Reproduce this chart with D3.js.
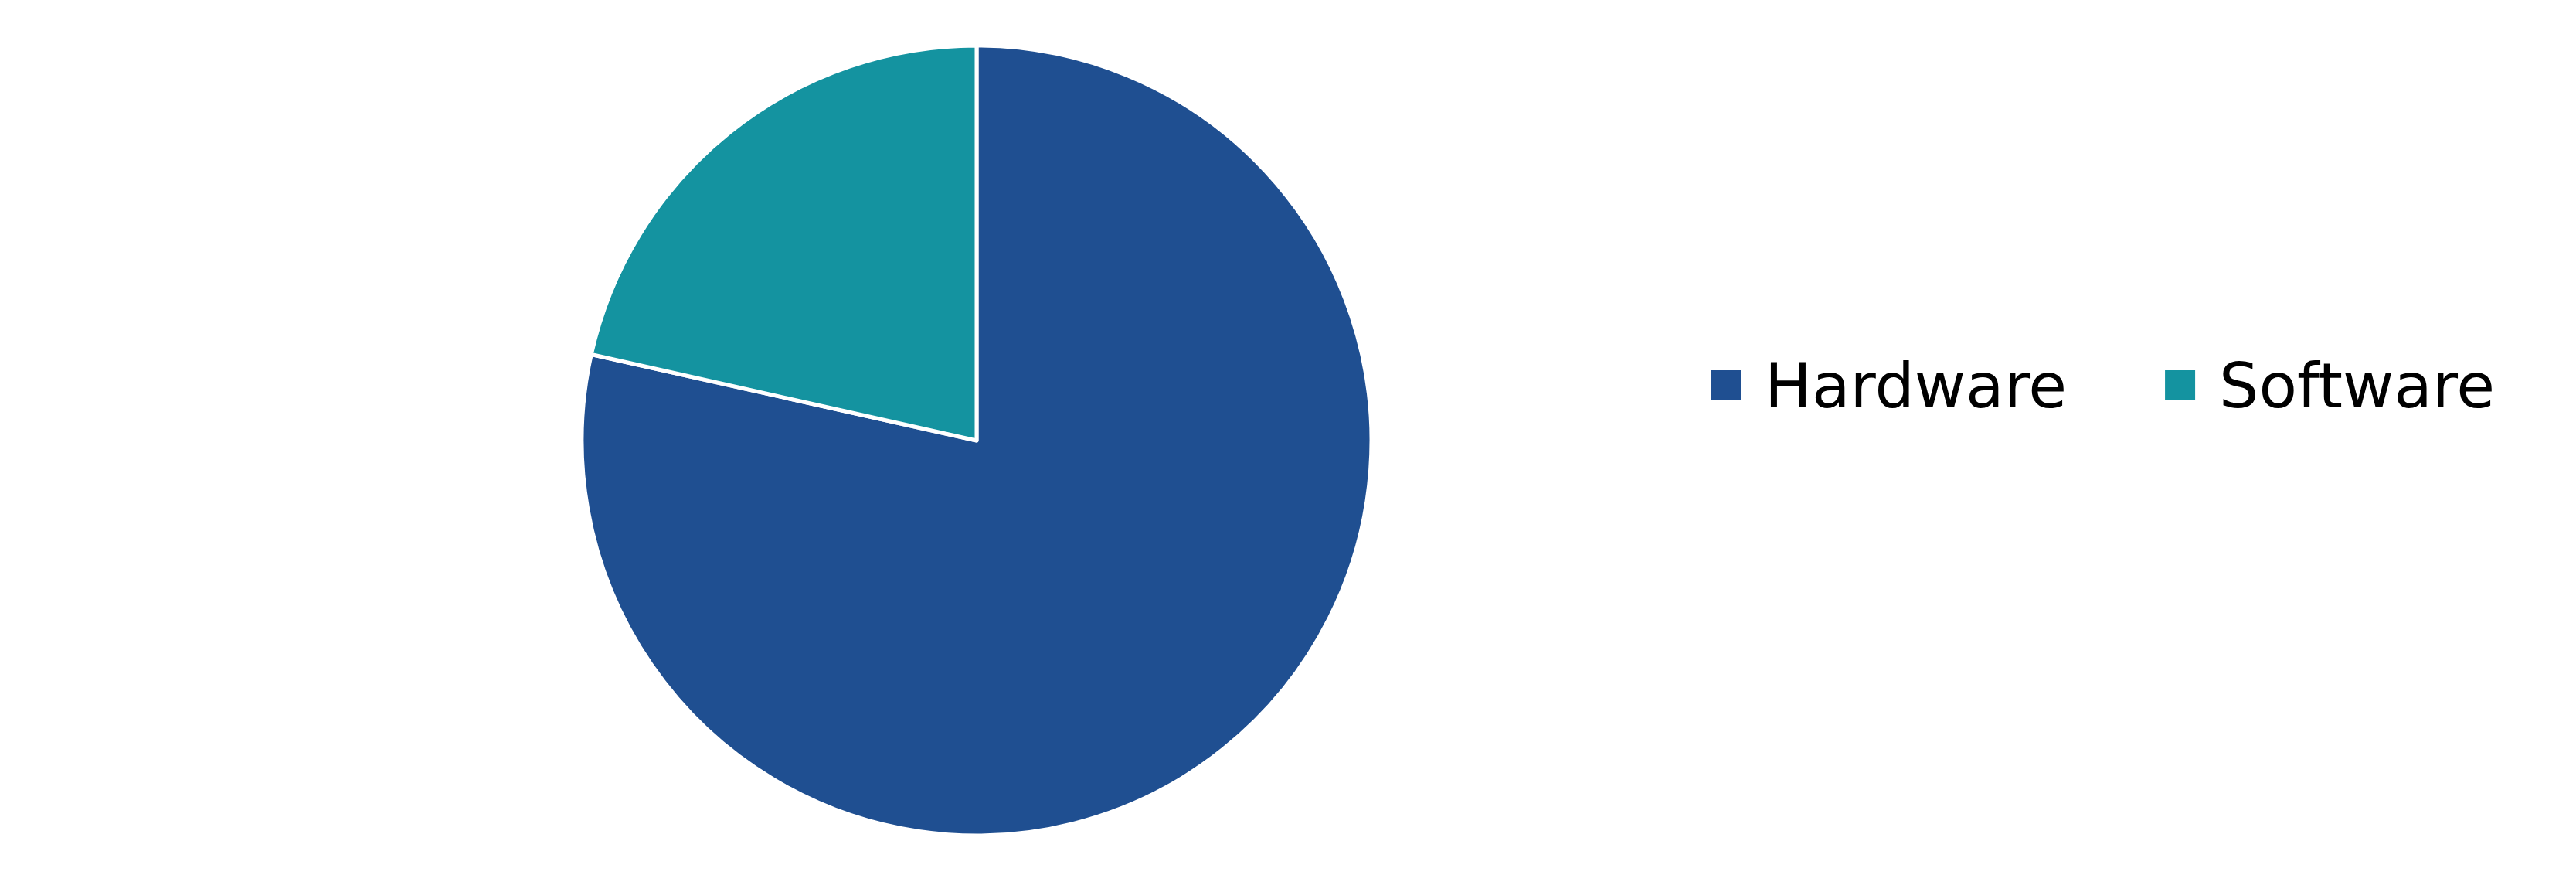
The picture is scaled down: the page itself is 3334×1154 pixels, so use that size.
<!DOCTYPE html>
<html>
<head>
<meta charset="utf-8">
<script src="https://cdn.jsdelivr.net/npm/d3@7"></script>
<style>
  html, body { margin: 0; padding: 0; background: #ffffff; }
  svg { display: block; }
</style>
</head>
<body>
<script>
const categories = ["Hardware", "Software"];
const values = [78.5, 21.5];
const colors = ["#1f4f91", "#1493a0"];

const W = 3334, H = 1154;
const svg = d3.select("body").append("svg").attr("width", W).attr("height", H);

const cx = 1264, cy = 570, R = 511;

const pie = d3.pie().sort(null).value(d => d.value);
const arc = d3.arc().innerRadius(0).outerRadius(R);
const data = categories.map((c, i) => ({ name: c, value: values[i], color: colors[i] }));

svg.append("g").attr("transform", `translate(${cx},${cy})`)
  .selectAll("path").data(pie(data)).join("path")
  .attr("d", arc)
  .attr("fill", d => d.data.color)
  .attr("stroke", "#ffffff")
  .attr("stroke-width", 5)
  .attr("stroke-linejoin", "round");

// legend
const legend = svg.append("g").attr("font-family", "'DejaVu Sans', sans-serif").attr("font-size", 81);
let x = 2214;
const sq = 39, gapText = 31, gapItem = 127, midY = 498.5;
data.forEach(d => {
  legend.append("rect").attr("x", x).attr("y", midY - sq / 2).attr("width", sq).attr("height", sq).attr("fill", d.color);
  const t = legend.append("text").attr("x", x + sq + gapText).attr("y", 527).attr("fill", "#000").text(d.name);
  const w = t.node().getComputedTextLength();
  x = x + sq + gapText + w + gapItem;
});
</script>
</body>
</html>
